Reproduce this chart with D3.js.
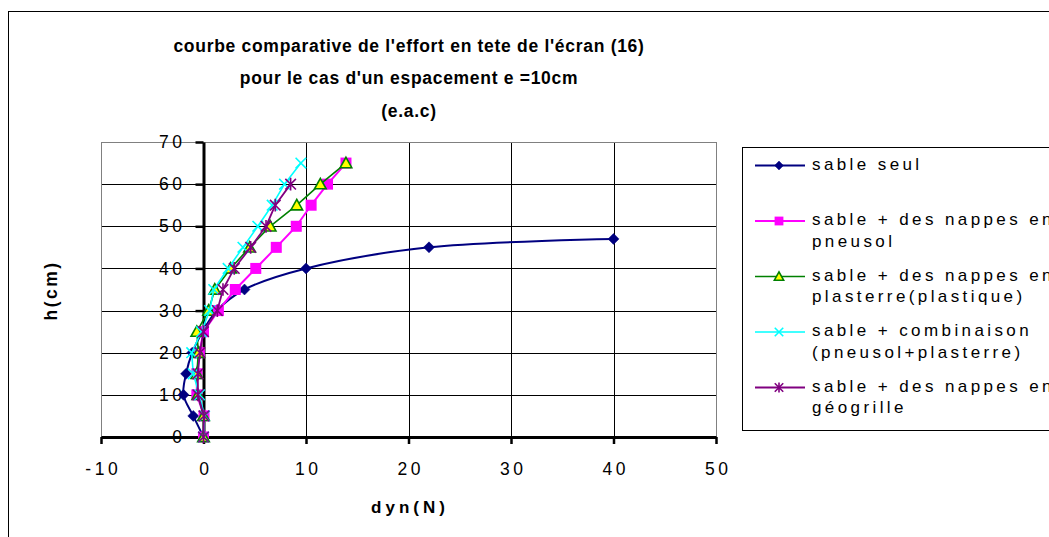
<!DOCTYPE html>
<html>
<head>
<meta charset="utf-8">
<script src="https://cdn.jsdelivr.net/npm/d3@7"></script>
<style>
  html, body { margin: 0; padding: 0; background: #fff; overflow: hidden; }
  svg { display: block; font-family: "Liberation Sans", Arial, sans-serif; }
</style>
</head>
<body>
<svg id="chart" width="1049" height="537"></svg>
<script>
// ---------- data ----------
const titleLines = [
  "courbe comparative de l'effort en tete de l'écran (16)",
  "pour le cas d'un espacement e =10cm",
  "(e.a.c)"
];
const xTitle = "dyn(N)";
const yTitle = "h(cm)";
const xTicks = [-10, 0, 10, 20, 30, 40, 50];
const yTicks = [0, 10, 20, 30, 40, 50, 60, 70];

const sableSeulH = [0, 5, 10, 15, 20, 25, 30, 35, 40, 45, 47];
const sableSeulX = [0, -1.0, -1.95, -1.7, -1.1, -0.1, 1.3, 4.0, 10.0, 22.0, 40.0];

const pneusolH = [0, 5, 10, 15, 20, 25, 30, 35, 40, 45, 50, 55, 60, 65];
const pneusolX = [0, 0.05, -0.65, -0.65, -0.4, 0.0, 1.45, 3.1, 5.1, 7.1, 9.05, 10.5, 12.1, 13.9];

const plasterreH = [0, 5, 10, 15, 20, 25, 30, 35, 40, 45, 50, 55, 60, 65];
const plasterreX = [0, 0.0, -0.55, -0.65, -0.5, -0.65, 0.5, 1.1, 2.65, 4.5, 6.5, 9.1, 11.4, 13.9];

const combinaisonH = [0, 5, 10, 15, 20, 25, 30, 35, 40, 45, 50, 55, 60, 65];
const combinaisonX = [0, 0.1, -0.4, -1.0, -1.15, -0.2, 0.6, 1.0, 2.4, 3.85, 5.3, 6.7, 7.9, 9.5];

const geogrilleH = [0, 5, 10, 15, 20, 25, 30, 35, 40, 45, 50, 55, 60];
const geogrilleX = [0, 0.05, -0.55, -0.55, -0.35, 0.0, 1.35, 1.9, 3.0, 4.6, 6.1, 7.0, 8.5];

const seriesNames = [
  ["sable seul"],
  ["sable + des nappes en", "pneusol"],
  ["sable + des nappes en", "plasterre(plastique)"],
  ["sable + combinaison", "(pneusol+plasterre)"],
  ["sable + des nappes en", "géogrille"]
];

// ---------- setup ----------
const svg = d3.select("#chart");
const FONT = '"Liberation Sans", Arial, sans-serif';

const x = d3.scaleLinear().domain([-10, 50]).range([101, 716]);
const y = d3.scaleLinear().domain([0, 70]).range([437, 142]);

const series = [
  { xs: sableSeulX, hs: sableSeulH, color: "#000080", marker: "diamond", width: 2, smooth: true },
  { xs: pneusolX, hs: pneusolH, color: "#FF00FF", marker: "square", width: 2, smooth: false },
  { xs: plasterreX, hs: plasterreH, color: "#008000", marker: "triangle", width: 1.6, smooth: false },
  { xs: combinaisonX, hs: combinaisonH, color: "#00FFFF", marker: "x", width: 1.6, smooth: false },
  { xs: geogrilleX, hs: geogrilleH, color: "#800080", marker: "star", width: 1.8, smooth: false }
];
series.forEach((s, i) => { s.name = seriesNames[i]; s.points = s.xs.map((v, j) => [v, s.hs[j]]); });

// outer chart border
svg.append("rect")
  .attr("x", 8.5).attr("y", 11.5)
  .attr("width", 1100).attr("height", 600)
  .attr("fill", "none").attr("stroke", "#000").attr("stroke-width", 1);

// title
svg.append("g").selectAll("text").data(titleLines).join("text")
  .attr("x", 409).attr("y", (d, i) => 51.5 + i * 32.5)
  .attr("text-anchor", "middle")
  .attr("font-family", FONT).attr("font-size", 17.5).attr("font-weight", "bold")
  .attr("letter-spacing", "0.7px")
  .attr("fill", "#000")
  .text(d => d);

// grid
const grid = svg.append("g");
grid.selectAll("line.h").data(yTicks.filter(t => t > 0 && t < 70)).join("line")
  .attr("x1", x(-10)).attr("x2", x(50))
  .attr("y1", d => Math.round(y(d)) + 0.5).attr("y2", d => Math.round(y(d)) + 0.5)
  .attr("stroke", "#000").attr("stroke-width", 1);
grid.selectAll("line.v").data(xTicks.filter(t => t > 0 && t < 50)).join("line")
  .attr("y1", y(0)).attr("y2", y(70))
  .attr("x1", d => Math.round(x(d)) + 0.5).attr("x2", d => Math.round(x(d)) + 0.5)
  .attr("stroke", "#000").attr("stroke-width", 1);

// plot area border
svg.append("rect")
  .attr("x", x(-10) + 0.5).attr("y", y(70) + 0.5)
  .attr("width", x(50) - x(-10)).attr("height", y(0) - y(70))
  .attr("fill", "none").attr("stroke", "#808080").attr("stroke-width", 1);

// x axis
const xAxis = svg.append("g")
  .attr("transform", `translate(0,${y(0)})`)
  .call(d3.axisBottom(x).tickValues(xTicks).tickSizeInner(7).tickSizeOuter(0).tickPadding(19).tickFormat(d => String(d)));
xAxis.select(".domain").attr("stroke", "#000").attr("stroke-width", 3);
xAxis.selectAll(".tick line").attr("stroke", "#000").attr("stroke-width", 2.5);
xAxis.selectAll(".tick text")
  .attr("font-family", FONT).attr("font-size", 17.5).attr("fill", "#000")
  .attr("letter-spacing", "3.5px").attr("dx", "1.75px");

// y axis
const yAxis = svg.append("g")
  .attr("transform", `translate(${x(0)},0)`)
  .call(d3.axisLeft(y).tickValues(yTicks).tickSizeInner(8).tickSizeOuter(0).tickPadding(10).tickFormat(d => String(d)));
yAxis.select(".domain").attr("stroke", "#000").attr("stroke-width", 3);
yAxis.selectAll(".tick line").attr("stroke", "#000").attr("stroke-width", 2.5);
yAxis.selectAll(".tick text")
  .attr("font-family", FONT).attr("font-size", 17.5).attr("fill", "#000")
  .attr("letter-spacing", "3.5px");

// axis titles
svg.append("text")
  .attr("x", 410).attr("y", 513)
  .attr("text-anchor", "middle")
  .attr("font-family", FONT).attr("font-size", 17).attr("font-weight", "bold")
  .attr("letter-spacing", "4px")
  .text(xTitle);
svg.append("text")
  .attr("transform", `translate(57,${(y(0) + y(70)) / 2 + 1}) rotate(-90)`)
  .attr("text-anchor", "middle")
  .attr("font-family", FONT).attr("font-size", 17.5).attr("font-weight", "bold")
  .attr("letter-spacing", "2.5px")
  .text(yTitle);

// markers
function drawMarker(g, type, color, cx, cy, scale) {
  const k = scale || 1;
  if (type === "diamond") {
    const r = 5.5 * k;
    g.append("path").attr("d", `M${cx},${cy - r}L${cx + r},${cy}L${cx},${cy + r}L${cx - r},${cy}Z`)
      .attr("fill", color).attr("stroke", color).attr("stroke-width", 0.5);
  } else if (type === "square") {
    const r = 5.5 * k;
    g.append("rect").attr("x", cx - r).attr("y", cy - r).attr("width", 2 * r).attr("height", 2 * r)
      .attr("fill", color).attr("stroke", "none");
  } else if (type === "triangle") {
    const r = 5.8 * k;
    g.append("path").attr("d", `M${cx},${cy - r}L${cx + r},${cy + r * 0.8}L${cx - r},${cy + r * 0.8}Z`)
      .attr("fill", "#FFFF00").attr("stroke", color).attr("stroke-width", 1.6);
  } else if (type === "x") {
    const r = 5.3 * k;
    g.append("path").attr("d", `M${cx - r},${cy - r}L${cx + r},${cy + r}M${cx - r},${cy + r}L${cx + r},${cy - r}`)
      .attr("fill", "none").attr("stroke", color).attr("stroke-width", 1.6);
  } else if (type === "star") {
    const r = 5.3 * k;
    g.append("path").attr("d", `M${cx - r},${cy - r}L${cx + r},${cy + r}M${cx - r},${cy + r}L${cx + r},${cy - r}M${cx},${cy - r * 1.2}L${cx},${cy + r * 1.2}`)
      .attr("fill", "none").attr("stroke", color).attr("stroke-width", 1.6);
  }
}

// series
const plot = svg.append("g");
series.forEach(s => {
  const line = d3.line()
    .x(d => x(d[0])).y(d => y(d[1]))
    .curve(s.smooth ? d3.curveCatmullRom.alpha(0.5) : d3.curveLinear);
  const g = plot.append("g");
  g.append("path").datum(s.points).attr("d", line)
    .attr("fill", "none").attr("stroke", s.color).attr("stroke-width", s.width)
    .attr("stroke-linejoin", "round");
  s.points.forEach(p => drawMarker(g, s.marker, s.color, x(p[0]), y(p[1]), 1));
});

// legend
const lg = svg.append("g");
lg.append("rect").attr("x", 742.5).attr("y", 147.5).attr("width", 400).attr("height", 283)
  .attr("fill", "#fff").attr("stroke", "#000").attr("stroke-width", 1);
series.forEach((s, i) => {
  const base = 169.5 + i * 55.5;
  const g = lg.append("g");
  g.append("line").attr("x1", 755).attr("x2", 805).attr("y1", base - 4).attr("y2", base - 4)
    .attr("stroke", s.color).attr("stroke-width", s.width);
  drawMarker(g, s.marker, s.color, 779, base - 4, 0.8);
  s.name.forEach((t, j) => {
    g.append("text").attr("x", 812).attr("y", base + j * 21.7)
      .attr("font-family", FONT).attr("font-size", 17).attr("letter-spacing", "3.4px")
      .attr("fill", "#000").text(t);
  });
});
</script>
</body>
</html>
